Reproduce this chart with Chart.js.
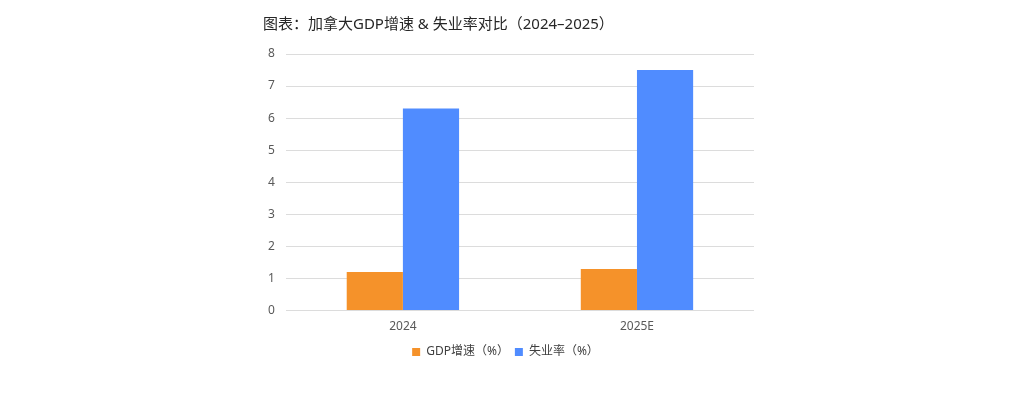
<!DOCTYPE html>
<html><head><meta charset="utf-8">
<script src="https://cdn.jsdelivr.net/npm/chart.js@4/dist/chart.umd.min.js"></script>
<style>html,body{margin:0;padding:0;background:#fff;}#wrap{width:1024px;height:395px;}</style>
</head><body><div id="wrap"><canvas id="c"></canvas></div>
<script>
const categories = ['2024', '2025E'];
const gdpGrowth = [1.2, 1.3];
const unemployment = [6.3, 7.5];
const seriesNames = ['GDP增速（%）', '失业率（%）'];
const titleText = '图表：加拿大GDP增速 & 失业率对比（2024–2025）';
const FONT = '"Noto Sans", "Noto Sans CJK SC", sans-serif';

const layoutTweak = {
  id: 'layoutTweak',
  afterLayout(chart) {
    if (chart.titleBlock) { chart.titleBlock.left += 6; chart.titleBlock.right += 6; }
    if (chart.legend) { chart.legend.top -= 3; chart.legend.bottom -= 3; }
  }
};

new Chart(document.getElementById('c'), {
  type: 'bar',
  data: {
    labels: categories,
    datasets: [
      { label: seriesNames[0], data: gdpGrowth, backgroundColor: '#F5922A' },
      { label: seriesNames[1], data: unemployment, backgroundColor: '#508CFF' }
    ]
  },
  options: {
    responsive: true,
    maintainAspectRatio: false,
    animation: false,
    layout: { padding: { left: 257, right: 270, top: 16, bottom: 24 } },
    datasets: { bar: { barPercentage: 1, categoryPercentage: 0.48 } },
    scales: {
      x: {
        grid: { display: false, drawTicks: false },
        border: { display: false },
        ticks: { color: '#595959', font: { family: FONT, size: 12 }, padding: 9 }
      },
      y: {
        min: 0, max: 8,
        ticks: { stepSize: 1, color: '#595959', font: { family: FONT, size: 12 }, padding: 11 },
        grid: { color: '#dcdcdc', drawTicks: false },
        border: { display: false }
      }
    },
    plugins: {
      title: {
        display: true, text: titleText, align: 'start', color: '#262626',
        font: { family: FONT, size: 15, weight: 'normal' },
        padding: { top: 0, bottom: 20 }
      },
      legend: {
        position: 'bottom',
        labels: { color: '#404040', font: { family: FONT, size: 12 }, boxWidth: 8, boxHeight: 8, padding: 6 }
      },
      tooltip: { enabled: false }
    }
  },
  plugins: [layoutTweak]
});
</script></body></html>
